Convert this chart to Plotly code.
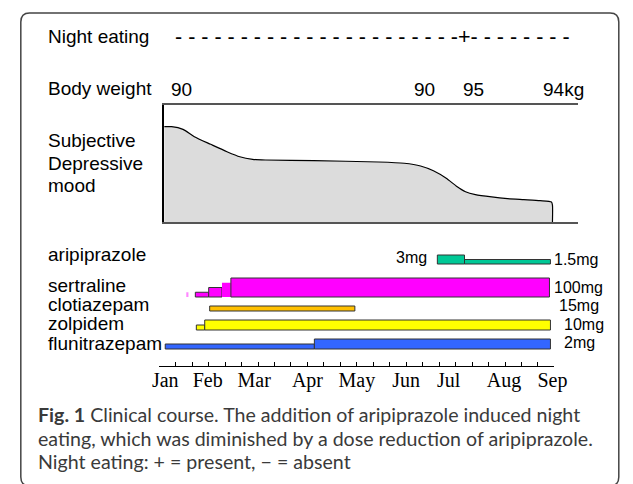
import plotly.graph_objects as go

W, H = 633, 484
OFF = 8  # page body margin in the browser

# ------------------------- data -------------------------
months = ["Jan", "Feb", "Mar", "Apr", "May", "Jun", "Jul", "Aug", "Sep"]
month_label_pos = [0.12, 0.98, 1.92, 3.0, 4.0, 5.0, 5.86, 6.98, 7.96]

night_eating_marks = "- - - - - - - - - - - - - - - - - - - - - -+- - - - - - - -"

weight_time = [0.45, 5.37, 6.37, 8.18]
weight_text = ["90", "90", "95", "94kg"]

# subjective depressive mood (relative 0-10)
mood_time = [0.10, 0.25, 0.48, 0.71, 1.04, 1.37, 1.63, 1.89, 2.15, 3.13, 4.44,
             4.96, 5.29, 5.55, 5.81, 6.01, 6.20, 6.40, 6.73, 7.05, 7.38, 7.71,
             7.94, 7.96, 7.96]
mood_score = [8.15, 8.15, 7.92, 7.29, 6.64, 6.01, 5.58, 5.36, 5.30, 5.24, 5.13,
              5.02, 4.79, 4.38, 3.74, 3.08, 2.59, 2.34, 2.14, 2.00, 1.91, 1.82,
              1.71, 1.45, 0.0]

drugs = ["aripiprazole", "sertraline", "clotiazepam", "zolpidem", "flunitrazepam"]

ari_start = [5.63, 6.18]
ari_end = [6.18, 7.92]
ari_dose = [3, 1.5]

ser_start = [0.55, 0.73, 1.00, 1.27, 1.45]
ser_end = [0.59, 1.00, 1.27, 1.45, 7.90]
ser_dose = [25, 25, 50, 75, 100]

clo_start = [1.02]
clo_end = [3.96]
clo_dose = [15]

zol_start = [0.75, 0.92]
zol_end = [0.92, 7.92]
zol_dose = [5, 10]

flu_start = [0.12, 3.14]
flu_end = [3.14, 7.92]
flu_dose = [1, 2]

ari_first_label = "3mg"
final_dose_labels = ["1.5mg", "100mg", "15mg", "10mg", "2mg"]

caption_lines = [
    "<b>Fig. 1</b> Clinical course. The addition of aripiprazole induced night",
    "eating, which was diminished by a dose reduction of aripiprazole.",
    "Night eating: + = present, \u2212 = absent",
]

# ------------------------- style -------------------------
def px(x):
    return (x - OFF) / W


def py(y):
    return 1 - (y - OFF) / H


SANS = "Liberation Sans, Arial, sans-serif"
SERIF = "Liberation Serif, Times New Roman, serif"
CAP = "Lato, Open Sans, sans-serif"

row_base = [88, 55, 41, 22, 3]          # drug-panel units (px above panel bottom)
dose_scale = [3.0, 0.19, 0.333, 1.0, 5.0]
drug_colors = ["#00c896", "#ff00ff", "#ffc000", "#ffff00", "#3366ff"]
edge = "#333333"

fig = go.Figure()

# subjective mood area
fig.add_trace(go.Scatter(
    x=mood_time, y=mood_score, xaxis="x3", yaxis="y3", mode="lines",
    line=dict(color="black", width=1.2, shape="spline", smoothing=0.6),
    fill="tozeroy", fillcolor="#dcdcdc", hoverinfo="skip", showlegend=False))

segs = [
    (ari_start, ari_end, ari_dose),
    (ser_start, ser_end, ser_dose),
    (clo_start, clo_end, clo_dose),
    (zol_start, zol_end, zol_dose),
    (flu_start, flu_end, flu_dose),
]
for i, (s, e, d) in enumerate(segs):
    colors = [drug_colors[i]] * len(s)
    widths = [1] * len(s)
    if drugs[i] == "sertraline":
        colors[0] = "#ff88ff"
        widths[0] = 0
        widths[3] = 0
    fig.add_trace(go.Bar(
        x=[(a + b) / 2 for a, b in zip(s, e)],
        width=[b - a for a, b in zip(s, e)],
        base=[row_base[i]] * len(s),
        y=[v * dose_scale[i] for v in d],
        marker=dict(color=colors, line=dict(color=edge, width=widths)),
        xaxis="x", yaxis="y", hoverinfo="skip", showlegend=False))

# dummy trace for the month-label axis
fig.add_trace(go.Scatter(x=[1], y=[1], xaxis="x2", yaxis="y", mode="markers",
                         marker=dict(opacity=0), hoverinfo="skip", showlegend=False))

ann = []
# left labels
ann.append(dict(text="Night eating", x=px(40), y=py(36)))
ann.append(dict(text="Body weight", x=px(40), y=py(88)))
for t, yy in zip(["Subjective", "Depressive", "mood"], [140.7, 163.3, 185.9]):
    ann.append(dict(text=t, x=px(40), y=py(yy)))
for t, yy in zip(drugs, [254.5, 285, 304.5, 323, 343]):
    ann.append(dict(text=t, x=px(40), y=py(yy)))
for a in ann:
    a.update(xref="paper", yref="paper", xanchor="left", yanchor="middle",
             showarrow=False, font=dict(family=SANS, size=19, color="black"))

# night eating marks
ann.append(dict(text=night_eating_marks, x=px(171), y=py(36.5), xref="paper",
                yref="paper", xanchor="left", yanchor="middle", showarrow=False,
                font=dict(family=SANS, size=21.5, color="black")))

# body weight values
for t, xx in zip(weight_text, weight_time):
    ann.append(dict(text=t, x=xx, y=py(89), xref="x3", yref="paper",
                    xanchor="center", yanchor="middle", showarrow=False,
                    font=dict(family=SANS, size=19, color="black")))

# dose labels
ann.append(dict(text=ari_first_label, x=ari_start[0], y=py(258), xref="x",
                yref="paper", xanchor="right", yanchor="middle", xshift=-8,
                showarrow=False, font=dict(family=SANS, size=16, color="black")))
for t, yy, xs in zip(final_dose_labels, [259.3, 287.3, 305.3, 324, 342.3],
                     [563, 563, 568, 573, 573]):
    ann.append(dict(text=t, x=px(xs), y=py(yy), xref="paper", yref="paper",
                    xanchor="left", yanchor="middle", showarrow=False,
                    font=dict(family=SANS, size=16, color="black")))

# caption
for t, yy in zip(caption_lines, [414, 438.5, 461.5]):
    ann.append(dict(text=t, x=px(30), y=py(yy), xref="paper", yref="paper",
                    xanchor="left", yanchor="middle", showarrow=False,
                    font=dict(family=CAP, size=19.6, color="#3a3a3a")))

# rounded border
L, T, R, B, r = 14, 13, 631.5, 486, 9


def P(x, y):
    return f"{px(x):.5f},{py(y):.5f}"


path = (f"M {P(L + r, T)} L {P(R - r, T)} Q {P(R, T)} {P(R, T + r)} "
        f"L {P(R, B - r)} Q {P(R, B)} {P(R - r, B)} L {P(L + r, B)} "
        f"Q {P(L, B)} {P(L, B - r)} L {P(L, T + r)} Q {P(L, T)} {P(L + r, T)} Z")

fig.update_layout(
    width=W, height=H, margin=dict(l=0, r=0, t=0, b=0),
    paper_bgcolor="white", plot_bgcolor="white", showlegend=False,
    barmode="overlay",
    xaxis=dict(domain=[px(157), px(565)], range=[0, 8], anchor="free",
               position=py(366), showline=True, linecolor="black", linewidth=1,
               ticks="inside", ticklen=4, tickcolor="black", tickwidth=1,
               tick0=0, dtick=1 / 3, showticklabels=False, showgrid=False,
               zeroline=False, fixedrange=True),
    xaxis2=dict(domain=[px(157), px(565)], range=[0, 8], anchor="free",
                overlaying="x", position=py(366), showline=False, ticks="",
                tickvals=month_label_pos, ticktext=months, showgrid=False,
                zeroline=False, tickfont=dict(family=SERIF, size=20, color="black")),
    yaxis=dict(domain=[py(352), py(250)], range=[0, 102], visible=False,
               anchor="x"),
    xaxis3=dict(domain=[px(162), px(589)], range=[0.098, 8.47], anchor="y3",
                showline=True, mirror=True, linecolor="#555555", linewidth=1.5,
                ticks="", showticklabels=False, showgrid=False, zeroline=False),
    yaxis3=dict(domain=[py(222), py(105)], range=[0, 10], anchor="x3",
                showline=True, linecolor="black", linewidth=1.5, ticks="",
                showticklabels=False, showgrid=False, zeroline=False),
    annotations=ann,
    shapes=[dict(type="path", path=path, xref="paper", yref="paper",
                 line=dict(color="#444444", width=1.5))],
)

fig.write_html("out.html")
